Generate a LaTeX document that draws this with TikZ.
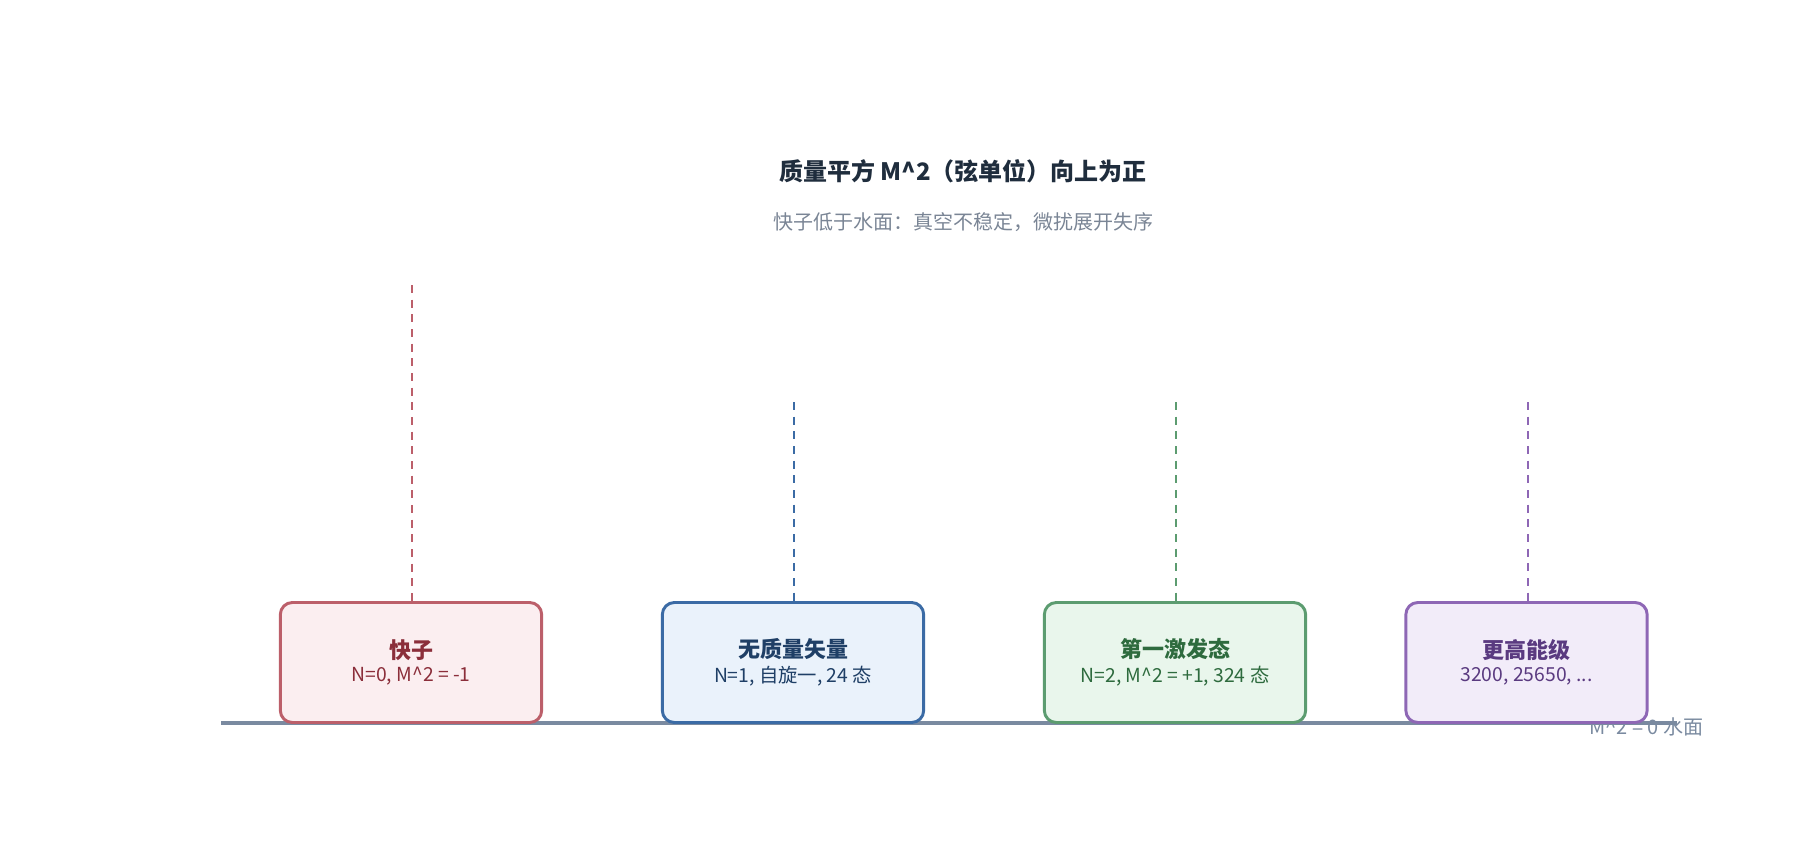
\documentclass[tikz,border=0pt]{standalone}
\usepackage{fontspec}
\setmainfont{Noto Sans CJK SC}
\definecolor{axisc}{HTML}{7A8AA0}
\definecolor{titlec}{HTML}{1F2D3D}
\definecolor{subc}{HTML}{7A8595}
\definecolor{redb}{HTML}{BC5F6A}\definecolor{redf}{HTML}{FBEEF0}\definecolor{redt}{HTML}{8B2E3A}
\definecolor{blub}{HTML}{3B6BA5}\definecolor{bluf}{HTML}{EAF2FB}\definecolor{blut}{HTML}{1F3F66}
\definecolor{grnb}{HTML}{5C9C70}\definecolor{grnf}{HTML}{E9F6EC}\definecolor{grnt}{HTML}{2E6B3E}
\definecolor{purb}{HTML}{8E67B5}\definecolor{purf}{HTML}{F2ECF9}\definecolor{purt}{HTML}{5A3A80}
\tikzset{
    level/.style={draw=#1b, fill=#1f, text=#1t, line width=2.2pt, rounded corners=9pt,
        minimum width=196pt, minimum height=90pt, align=center, inner sep=0pt},
    stem/.style={draw=#1b, dashed, line width=2.2pt, dash pattern=on 6pt off 5pt},
}
\newcommand{\lvltext}[2]{{\fontsize{16.5pt}{20pt}\selectfont\bfseries #1}\\[4pt]{\fontsize{14.5pt}{18pt}\selectfont #2}}
\begin{document}
\begin{tikzpicture}[x=0.75pt, y=-0.75pt]
    \useasboundingbox (0, 0) rectangle (1800, 840);
    % titles
    \node[text=titlec, font=\fontsize{18pt}{22pt}\selectfont\bfseries] (title) at (963, 171)
        {质量平方 M\textasciicircum 2（弦单位）向上为正};
    \node[text=subc, font=\fontsize{15pt}{18pt}\selectfont] (sub) at (963, 222)
        {快子低于水面：真空不稳定，微扰展开失序};
    % water line
    \coordinate (w0) at (221, 723);
    \coordinate (w1) at (1677, 723);
    \draw[axisc, line width=2.4pt] (w0) -- (w1);
    \node[text=axisc, anchor=east, font=\fontsize{15pt}{18pt}\selectfont] (wlab) at (1708, 727)
        {M\textasciicircum 2 = 0 水面};
    % stems
    \coordinate (t1) at (412, 285);
    \coordinate (t2) at (794, 402);
    \coordinate (t3) at (1176, 402);
    \coordinate (t4) at (1528, 402);
    \draw[stem=red] (t1) -- (412, 602);
    \draw[stem=blu] (t2) -- (794, 602);
    \draw[stem=grn] (t3) -- (1176, 602);
    \draw[stem=pur] (t4) -- (1528, 602);
    % levels
    \node[level=red] (tach) at (411, 662.5) {\lvltext{快子}{N=0, M\textasciicircum 2 = -1}};
    \node[level=blu] (vect) at (793, 662.5) {\lvltext{无质量矢量}{N=1, 自旋一, 24 态}};
    \node[level=grn] (first) at (1175, 662.5) {\lvltext{第一激发态}{N=2, M\textasciicircum 2 = +1, 324 态}};
    \node[level=pur, minimum width=181pt] (high) at (1526.5, 662.5) {\lvltext{更高能级}{3200, 25650, ...}};
\end{tikzpicture}
\end{document}
